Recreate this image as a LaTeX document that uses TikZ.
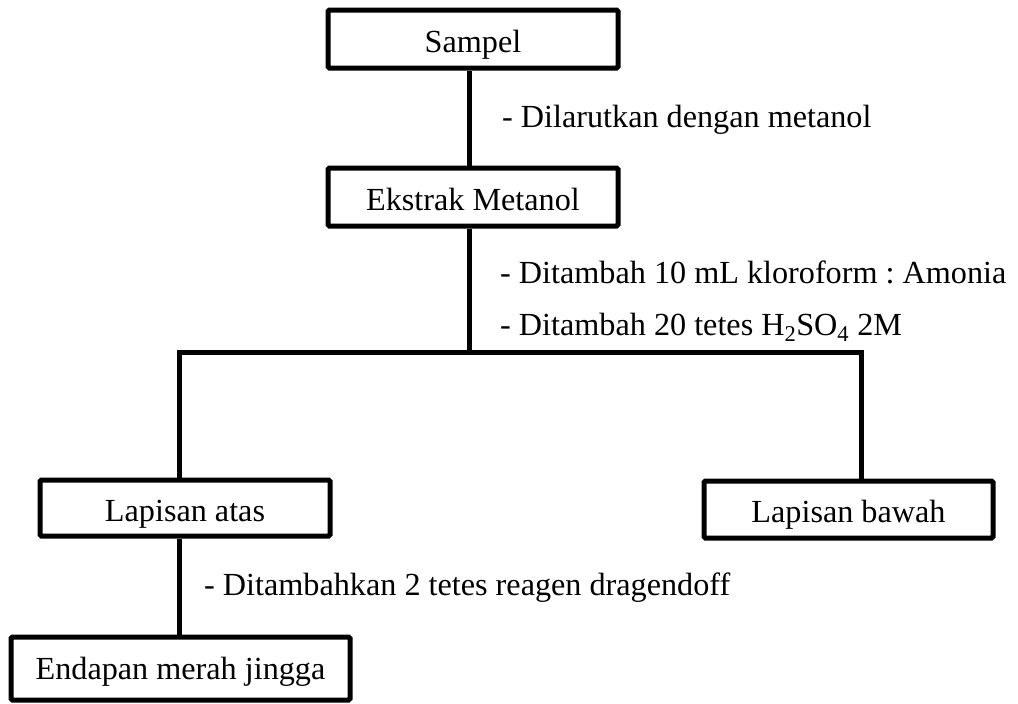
\documentclass[tikz,border=0pt]{standalone}
\usepackage{fontspec}
\setmainfont{Liberation Serif}
\frenchspacing
\begin{document}
\begin{tikzpicture}[x=1pt,y=-1pt,
  font=\fontsize{32.2}{36}\selectfont,
  box/.style={draw, line width=5pt, rounded corners=1.5pt, fill=white, inner sep=0pt,
    text height=27pt, text depth=1pt},
  link/.style={line width=5pt},
  note/.style={anchor=base west, inner sep=0pt}]
\useasboundingbox (0,0) rectangle (1018,704);

% process boxes
\node[box, minimum width=290pt, minimum height=58pt] (sampel) at (473,39) {Sampel};
\node[box, minimum width=290pt, minimum height=58pt] (ekstrak) at (473,197) {Ekstrak Metanol};
\node[box, minimum width=290pt, minimum height=56pt] (atas) at (185,508) {Lapisan atas};
\node[box, minimum width=289pt, minimum height=57pt] (bawah) at (848.5,509.5) {Lapisan bawah};
\node[box, minimum width=339pt, minimum height=63pt, text height=22pt] (endapan) at (180.5,668.5) {Endapan merah jingga};

% trunk and branch points
\coordinate (trunk) at (469,352);
\coordinate (left) at (179,352);
\coordinate (right) at (861,352);

% connectors
\draw[link] (sampel.south -| trunk) -- (ekstrak.north -| trunk);
\draw[link] (ekstrak.south -| trunk) -- (trunk);
\draw[link] (atas.north -| left) -- (left) -- (right) -- (bawah.north -| right);
\draw[link] (atas.south -| left) -- (endapan.north -| left);

% step notes
\node[note] (n1) at (502,127) {- Dilarutkan dengan metanol};
\node[note] (n2) at (500,283) {- Ditambah 10 mL kloroform : Amonia};
\node[note] (n3) at (500,335) {- Ditambah 20 tetes H\textsubscript{2}SO\textsubscript{4} 2M};
\node[note] (n4) at (204,595) {- Ditambahkan 2 tetes reagen dragendoff};
\end{tikzpicture}
\end{document}
